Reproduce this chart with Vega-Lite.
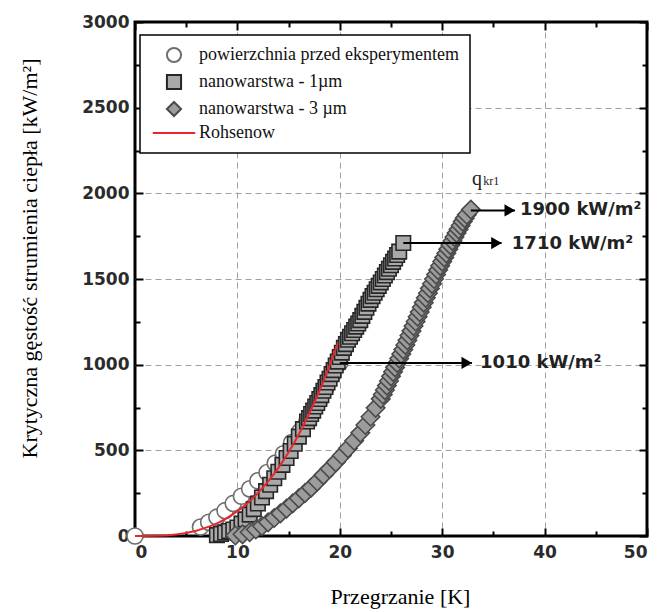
{
  "$schema": "https://vega.github.io/schema/vega-lite/v6.json",
  "autosize": {"type": "none"},
  "padding": {"left": 135, "top": 22, "right": 12, "bottom": 76},
  "width": 512,
  "height": 514,
  "background": "white",
  "config": {
    "view": {"stroke": "black", "strokeWidth": 3},
    "axis": {
      "labelFont": "DejaVu Sans",
      "labelFontWeight": "bold",
      "labelFontSize": 17,
      "labelColor": "#2b2b2b",
      "titleFont": "Liberation Serif",
      "titleFontWeight": "normal",
      "titleColor": "black",
      "domain": false,
      "tickColor": "black",
      "tickWidth": 2,
      "gridColor": "#a0a0a0",
      "gridDash": [6, 4],
      "gridWidth": 1
    },
    "legend": {
      "title": null, "orient": "none", "legendX": 5, "legendY": 13, "padding": 11,
      "strokeColor": "black", "fillColor": "white", "strokeWidth": 1.5,
      "labelFont": "Liberation Serif", "labelFontSize": 18, "labelColor": "#111", "labelLimit": 400,
      "symbolSize": 200, "symbolStrokeWidth": 2, "symbolOffset": 14, "labelOffset": 16, "rowPadding": 3
    }
  },
  "datasets": {
    "circ": [
      {"s": "powierzchnia przed eksperymentem", "x": 0, "y": 0},
      {"s": "powierzchnia przed eksperymentem", "x": 6.4, "y": 52},
      {"s": "powierzchnia przed eksperymentem", "x": 7.2, "y": 80},
      {"s": "powierzchnia przed eksperymentem", "x": 8.0, "y": 110},
      {"s": "powierzchnia przed eksperymentem", "x": 8.8, "y": 148},
      {"s": "powierzchnia przed eksperymentem", "x": 9.6, "y": 190},
      {"s": "powierzchnia przed eksperymentem", "x": 10.4, "y": 232},
      {"s": "powierzchnia przed eksperymentem", "x": 11.2, "y": 275},
      {"s": "powierzchnia przed eksperymentem", "x": 12.0, "y": 322},
      {"s": "powierzchnia przed eksperymentem", "x": 12.9, "y": 370},
      {"s": "powierzchnia przed eksperymentem", "x": 13.7, "y": 425},
      {"s": "powierzchnia przed eksperymentem", "x": 14.5, "y": 480},
      {"s": "powierzchnia przed eksperymentem", "x": 15.3, "y": 545},
      {"s": "powierzchnia przed eksperymentem", "x": 16.1, "y": 610},
      {"s": "powierzchnia przed eksperymentem", "x": 16.8, "y": 672},
      {"s": "powierzchnia przed eksperymentem", "x": 17.4, "y": 730},
      {"s": "powierzchnia przed eksperymentem", "x": 18.0, "y": 790},
      {"s": "powierzchnia przed eksperymentem", "x": 18.6, "y": 860},
      {"s": "powierzchnia przed eksperymentem", "x": 19.3, "y": 940},
      {"s": "powierzchnia przed eksperymentem", "x": 20.0, "y": 1010}
    ],
    "sq": [
      {"s": "nanowarstwa - 1µm", "x": 8.0, "y": 5},
      {"s": "nanowarstwa - 1µm", "x": 8.4, "y": 12},
      {"s": "nanowarstwa - 1µm", "x": 8.8, "y": 20},
      {"s": "nanowarstwa - 1µm", "x": 9.2, "y": 29},
      {"s": "nanowarstwa - 1µm", "x": 9.6, "y": 38},
      {"s": "nanowarstwa - 1µm", "x": 10.0, "y": 50},
      {"s": "nanowarstwa - 1µm", "x": 10.4, "y": 72},
      {"s": "nanowarstwa - 1µm", "x": 10.8, "y": 97},
      {"s": "nanowarstwa - 1µm", "x": 11.2, "y": 125},
      {"s": "nanowarstwa - 1µm", "x": 11.6, "y": 157},
      {"s": "nanowarstwa - 1µm", "x": 12.0, "y": 190},
      {"s": "nanowarstwa - 1µm", "x": 12.4, "y": 225},
      {"s": "nanowarstwa - 1µm", "x": 12.8, "y": 262},
      {"s": "nanowarstwa - 1µm", "x": 13.2, "y": 299},
      {"s": "nanowarstwa - 1µm", "x": 13.6, "y": 337},
      {"s": "nanowarstwa - 1µm", "x": 14.0, "y": 375},
      {"s": "nanowarstwa - 1µm", "x": 14.4, "y": 415},
      {"s": "nanowarstwa - 1µm", "x": 14.8, "y": 455},
      {"s": "nanowarstwa - 1µm", "x": 15.2, "y": 496},
      {"s": "nanowarstwa - 1µm", "x": 15.6, "y": 538},
      {"s": "nanowarstwa - 1µm", "x": 16.0, "y": 580},
      {"s": "nanowarstwa - 1µm", "x": 16.4, "y": 624},
      {"s": "nanowarstwa - 1µm", "x": 16.8, "y": 668},
      {"s": "nanowarstwa - 1µm", "x": 17.0, "y": 688},
      {"s": "nanowarstwa - 1µm", "x": 17.2, "y": 712},
      {"s": "nanowarstwa - 1µm", "x": 17.4, "y": 732},
      {"s": "nanowarstwa - 1µm", "x": 17.6, "y": 756},
      {"s": "nanowarstwa - 1µm", "x": 17.8, "y": 776},
      {"s": "nanowarstwa - 1µm", "x": 18.0, "y": 800},
      {"s": "nanowarstwa - 1µm", "x": 18.2, "y": 822},
      {"s": "nanowarstwa - 1µm", "x": 18.4, "y": 848},
      {"s": "nanowarstwa - 1µm", "x": 18.6, "y": 870},
      {"s": "nanowarstwa - 1µm", "x": 18.8, "y": 896},
      {"s": "nanowarstwa - 1µm", "x": 19.0, "y": 918},
      {"s": "nanowarstwa - 1µm", "x": 19.2, "y": 945},
      {"s": "nanowarstwa - 1µm", "x": 19.4, "y": 968},
      {"s": "nanowarstwa - 1µm", "x": 19.6, "y": 995},
      {"s": "nanowarstwa - 1µm", "x": 19.8, "y": 1018},
      {"s": "nanowarstwa - 1µm", "x": 20.0, "y": 1045},
      {"s": "nanowarstwa - 1µm", "x": 20.2, "y": 1070},
      {"s": "nanowarstwa - 1µm", "x": 20.4, "y": 1098},
      {"s": "nanowarstwa - 1µm", "x": 20.6, "y": 1120},
      {"s": "nanowarstwa - 1µm", "x": 20.8, "y": 1145},
      {"s": "nanowarstwa - 1µm", "x": 21.0, "y": 1163},
      {"s": "nanowarstwa - 1µm", "x": 21.2, "y": 1183},
      {"s": "nanowarstwa - 1µm", "x": 21.4, "y": 1202},
      {"s": "nanowarstwa - 1µm", "x": 21.6, "y": 1222},
      {"s": "nanowarstwa - 1µm", "x": 21.8, "y": 1240},
      {"s": "nanowarstwa - 1µm", "x": 22.0, "y": 1260},
      {"s": "nanowarstwa - 1µm", "x": 22.2, "y": 1285},
      {"s": "nanowarstwa - 1µm", "x": 22.4, "y": 1308},
      {"s": "nanowarstwa - 1µm", "x": 22.6, "y": 1332},
      {"s": "nanowarstwa - 1µm", "x": 22.8, "y": 1356},
      {"s": "nanowarstwa - 1µm", "x": 23.0, "y": 1378},
      {"s": "nanowarstwa - 1µm", "x": 23.2, "y": 1400},
      {"s": "nanowarstwa - 1µm", "x": 23.4, "y": 1420},
      {"s": "nanowarstwa - 1µm", "x": 23.6, "y": 1440},
      {"s": "nanowarstwa - 1µm", "x": 23.8, "y": 1460},
      {"s": "nanowarstwa - 1µm", "x": 24.0, "y": 1480},
      {"s": "nanowarstwa - 1µm", "x": 24.2, "y": 1500},
      {"s": "nanowarstwa - 1µm", "x": 24.4, "y": 1520},
      {"s": "nanowarstwa - 1µm", "x": 24.6, "y": 1540},
      {"s": "nanowarstwa - 1µm", "x": 24.8, "y": 1560},
      {"s": "nanowarstwa - 1µm", "x": 25.0, "y": 1580},
      {"s": "nanowarstwa - 1µm", "x": 25.2, "y": 1600},
      {"s": "nanowarstwa - 1µm", "x": 25.4, "y": 1620},
      {"s": "nanowarstwa - 1µm", "x": 25.6, "y": 1640},
      {"s": "nanowarstwa - 1µm", "x": 25.8, "y": 1660},
      {"s": "nanowarstwa - 1µm", "x": 26.2, "y": 1710}
    ],
    "dia": [
      {"s": "nanowarstwa - 3 µm", "x": 9.8, "y": 3},
      {"s": "nanowarstwa - 3 µm", "x": 10.5, "y": 10},
      {"s": "nanowarstwa - 3 µm", "x": 11.2, "y": 22},
      {"s": "nanowarstwa - 3 µm", "x": 11.8, "y": 38},
      {"s": "nanowarstwa - 3 µm", "x": 12.4, "y": 58},
      {"s": "nanowarstwa - 3 µm", "x": 13.0, "y": 80},
      {"s": "nanowarstwa - 3 µm", "x": 13.6, "y": 105},
      {"s": "nanowarstwa - 3 µm", "x": 14.2, "y": 132},
      {"s": "nanowarstwa - 3 µm", "x": 14.8, "y": 160},
      {"s": "nanowarstwa - 3 µm", "x": 15.4, "y": 190},
      {"s": "nanowarstwa - 3 µm", "x": 16.0, "y": 220},
      {"s": "nanowarstwa - 3 µm", "x": 16.6, "y": 250},
      {"s": "nanowarstwa - 3 µm", "x": 17.2, "y": 282},
      {"s": "nanowarstwa - 3 µm", "x": 17.8, "y": 318},
      {"s": "nanowarstwa - 3 µm", "x": 18.4, "y": 355},
      {"s": "nanowarstwa - 3 µm", "x": 19.0, "y": 392},
      {"s": "nanowarstwa - 3 µm", "x": 19.6, "y": 430},
      {"s": "nanowarstwa - 3 µm", "x": 20.2, "y": 470},
      {"s": "nanowarstwa - 3 µm", "x": 20.8, "y": 512},
      {"s": "nanowarstwa - 3 µm", "x": 21.4, "y": 556},
      {"s": "nanowarstwa - 3 µm", "x": 22.0, "y": 602},
      {"s": "nanowarstwa - 3 µm", "x": 22.5, "y": 648},
      {"s": "nanowarstwa - 3 µm", "x": 23.0, "y": 696},
      {"s": "nanowarstwa - 3 µm", "x": 23.5, "y": 748},
      {"s": "nanowarstwa - 3 µm", "x": 24.0, "y": 800},
      {"s": "nanowarstwa - 3 µm", "x": 24.2, "y": 826},
      {"s": "nanowarstwa - 3 µm", "x": 24.4, "y": 852},
      {"s": "nanowarstwa - 3 µm", "x": 24.6, "y": 878},
      {"s": "nanowarstwa - 3 µm", "x": 24.8, "y": 905},
      {"s": "nanowarstwa - 3 µm", "x": 25.0, "y": 932},
      {"s": "nanowarstwa - 3 µm", "x": 25.2, "y": 958},
      {"s": "nanowarstwa - 3 µm", "x": 25.4, "y": 984},
      {"s": "nanowarstwa - 3 µm", "x": 25.6, "y": 1010},
      {"s": "nanowarstwa - 3 µm", "x": 25.8, "y": 1036},
      {"s": "nanowarstwa - 3 µm", "x": 26.0, "y": 1062},
      {"s": "nanowarstwa - 3 µm", "x": 26.2, "y": 1088},
      {"s": "nanowarstwa - 3 µm", "x": 26.4, "y": 1115},
      {"s": "nanowarstwa - 3 µm", "x": 26.6, "y": 1142},
      {"s": "nanowarstwa - 3 µm", "x": 26.8, "y": 1170},
      {"s": "nanowarstwa - 3 µm", "x": 27.0, "y": 1197},
      {"s": "nanowarstwa - 3 µm", "x": 27.2, "y": 1225},
      {"s": "nanowarstwa - 3 µm", "x": 27.4, "y": 1252},
      {"s": "nanowarstwa - 3 µm", "x": 27.6, "y": 1280},
      {"s": "nanowarstwa - 3 µm", "x": 27.8, "y": 1307},
      {"s": "nanowarstwa - 3 µm", "x": 28.0, "y": 1335},
      {"s": "nanowarstwa - 3 µm", "x": 28.2, "y": 1362},
      {"s": "nanowarstwa - 3 µm", "x": 28.4, "y": 1390},
      {"s": "nanowarstwa - 3 µm", "x": 28.6, "y": 1417},
      {"s": "nanowarstwa - 3 µm", "x": 28.8, "y": 1445},
      {"s": "nanowarstwa - 3 µm", "x": 29.0, "y": 1472},
      {"s": "nanowarstwa - 3 µm", "x": 29.2, "y": 1500},
      {"s": "nanowarstwa - 3 µm", "x": 29.4, "y": 1526},
      {"s": "nanowarstwa - 3 µm", "x": 29.6, "y": 1552},
      {"s": "nanowarstwa - 3 µm", "x": 29.8, "y": 1577},
      {"s": "nanowarstwa - 3 µm", "x": 30.0, "y": 1602},
      {"s": "nanowarstwa - 3 µm", "x": 30.2, "y": 1626},
      {"s": "nanowarstwa - 3 µm", "x": 30.4, "y": 1650},
      {"s": "nanowarstwa - 3 µm", "x": 30.6, "y": 1674},
      {"s": "nanowarstwa - 3 µm", "x": 30.8, "y": 1698},
      {"s": "nanowarstwa - 3 µm", "x": 31.0, "y": 1722},
      {"s": "nanowarstwa - 3 µm", "x": 31.2, "y": 1745},
      {"s": "nanowarstwa - 3 µm", "x": 31.4, "y": 1768},
      {"s": "nanowarstwa - 3 µm", "x": 31.6, "y": 1790},
      {"s": "nanowarstwa - 3 µm", "x": 31.8, "y": 1812},
      {"s": "nanowarstwa - 3 µm", "x": 32.0, "y": 1835},
      {"s": "nanowarstwa - 3 µm", "x": 32.2, "y": 1855},
      {"s": "nanowarstwa - 3 µm", "x": 32.4, "y": 1875},
      {"s": "nanowarstwa - 3 µm", "x": 32.8, "y": 1905}
    ],
    "roh": [
      {"x": 0, "y": 0}, {"x": 2, "y": 1}, {"x": 4, "y": 9}, {"x": 5, "y": 18},
      {"x": 6, "y": 31}, {"x": 7, "y": 50}, {"x": 8, "y": 74}, {"x": 9, "y": 106},
      {"x": 10, "y": 145}, {"x": 11, "y": 193}, {"x": 12, "y": 251}, {"x": 13, "y": 319},
      {"x": 14, "y": 398}, {"x": 15, "y": 489}, {"x": 16, "y": 594}, {"x": 17, "y": 712},
      {"x": 18, "y": 846}, {"x": 19, "y": 995}, {"x": 19.8, "y": 1125}
    ],
    "arrows": [
      {"x": 20.0, "x2": 32.9, "y": 1010, "head": 32.4},
      {"x": 26.2, "x2": 35.8, "y": 1710, "head": 35.3},
      {"x": 32.8, "x2": 37.1, "y": 1900, "head": 36.6}
    ],
    "labels": [
      {"x": 33.7, "y": 1010, "t": "1010 kW/m²"},
      {"x": 36.8, "y": 1705, "t": "1710 kW/m²"},
      {"x": 37.6, "y": 1900, "t": "1900 kW/m²"}
    ],
    "qlab": [
      {"x": 32.9, "y": 2050, "t": "q", "sz": 20},
      {"x": 34.0, "y": 2050, "t": "kr1", "sz": 12}
    ]
  },
  "layer": [
    {
      "data": {"name": "circ"},
      "mark": {"type": "point", "filled": true, "opacity": 1, "strokeWidth": 1.6, "size": 260},
      "encoding": {
        "x": {
          "field": "x", "type": "quantitative",
          "scale": {"domain": [0, 50], "nice": false, "zero": false},
          "axis": {
            "orient": "bottom",
            "values": [0, 5, 10, 15, 20, 25, 30, 35, 40, 45, 50],
            "format": "d",
            "labelExpr": "datum.value % 10 === 0 ? datum.label : ''",
            "tickSize": {"condition": {"test": "datum.value % 10 === 0", "value": -8}, "value": -5},
            "labelPadding": 16,
            "grid": true,
            "gridOpacity": {"condition": {"test": "datum.value % 10 === 0 && datum.value > 0 && datum.value < 50", "value": 1}, "value": 0},
            "title": "Przegrzanie [K]",
            "titleFontSize": 22,
            "titleX": 265,
            "titleY": 67,
            "titleAlign": "center",
            "titleBaseline": "alphabetic"
          }
        },
        "y": {
          "field": "y", "type": "quantitative",
          "scale": {"domain": [0, 3000], "nice": false},
          "axis": {
            "orient": "left",
            "values": [0, 250, 500, 750, 1000, 1250, 1500, 1750, 2000, 2250, 2500, 2750, 3000],
            "format": "d",
            "labelExpr": "datum.value % 500 === 0 ? datum.label : ''",
            "tickSize": {"condition": {"test": "datum.value % 500 === 0", "value": -8}, "value": -5},
            "labelPadding": 14,
            "grid": true,
            "gridOpacity": {"condition": {"test": "datum.value % 500 === 0 && datum.value > 0 && datum.value < 3000", "value": 1}, "value": 0},
            "title": "Krytyczna gęstość strumienia ciepła [kW/m²]",
            "titleFontSize": 22,
            "titleX": -99,
            "titleY": 236,
            "titleAlign": "center",
            "titleBaseline": "alphabetic"
          }
        },
        "shape": {"field": "s", "type": "nominal", "scale": {"domain": ["powierzchnia przed eksperymentem", "nanowarstwa - 1µm", "nanowarstwa - 3 µm", "Rohsenow"], "range": ["circle", "square", "diamond", "M-3,0H3"]}},
        "fill": {"field": "s", "type": "nominal", "scale": {"domain": ["powierzchnia przed eksperymentem", "nanowarstwa - 1µm", "nanowarstwa - 3 µm", "Rohsenow"], "range": ["white", "#a9a9a9", "#9c9c9c", "transparent"]}},
        "stroke": {"field": "s", "type": "nominal", "scale": {"domain": ["powierzchnia przed eksperymentem", "nanowarstwa - 1µm", "nanowarstwa - 3 µm", "Rohsenow"], "range": ["#6e6e6e", "#262626", "#4a4a4a", "#e8262b"]}}
      }
    },
    {
      "data": {"name": "sq"},
      "mark": {"type": "point", "filled": true, "opacity": 1, "strokeWidth": 1.6, "size": 210},
      "encoding": {
        "x": {"field": "x", "type": "quantitative", "axis": null},
        "y": {"field": "y", "type": "quantitative", "axis": null},
        "shape": {"field": "s", "type": "nominal"},
        "fill": {"field": "s", "type": "nominal"},
        "stroke": {"field": "s", "type": "nominal"}
      }
    },
    {
      "data": {"name": "dia"},
      "mark": {"type": "point", "filled": true, "opacity": 1, "strokeWidth": 1.6, "size": 340},
      "encoding": {
        "x": {"field": "x", "type": "quantitative", "axis": null},
        "y": {"field": "y", "type": "quantitative", "axis": null},
        "shape": {"field": "s", "type": "nominal"},
        "fill": {"field": "s", "type": "nominal"},
        "stroke": {"field": "s", "type": "nominal"}
      }
    },
    {
      "data": {"name": "roh"},
      "mark": {"type": "line", "color": "#e8262b", "strokeWidth": 2, "interpolate": "monotone"},
      "encoding": {
        "x": {"field": "x", "type": "quantitative", "axis": null},
        "y": {"field": "y", "type": "quantitative", "axis": null}
      }
    },
    {
      "data": {"name": "arrows"},
      "mark": {"type": "rule", "color": "black", "strokeWidth": 2},
      "encoding": {
        "x": {
          "field": "x", "type": "quantitative",
          "axis": {
            "orient": "top",
            "values": [0, 5, 10, 15, 20, 25, 30, 35, 40, 45, 50],
            "labels": false, "grid": false, "title": null,
            "tickSize": {"condition": {"test": "datum.value % 10 === 0", "value": -8}, "value": -5}
          }
        },
        "x2": {"field": "x2"},
        "y": {
          "field": "y", "type": "quantitative",
          "axis": {
            "orient": "right",
            "values": [0, 250, 500, 750, 1000, 1250, 1500, 1750, 2000, 2250, 2500, 2750, 3000],
            "labels": false, "grid": false, "title": null,
            "tickSize": {"condition": {"test": "datum.value % 500 === 0", "value": -8}, "value": -5}
          }
        }
      }
    },
    {
      "data": {"name": "arrows"},
      "mark": {"type": "point", "shape": "triangle-right", "filled": true, "color": "black", "opacity": 1, "size": 150},
      "encoding": {
        "x": {"field": "head", "type": "quantitative", "axis": null},
        "y": {"field": "y", "type": "quantitative", "axis": null}
      }
    },
    {
      "data": {"name": "labels"},
      "mark": {"type": "text", "align": "left", "baseline": "middle", "font": "DejaVu Sans", "fontWeight": "bold", "fontSize": 18, "color": "#222"},
      "encoding": {
        "x": {"field": "x", "type": "quantitative", "axis": null},
        "y": {"field": "y", "type": "quantitative", "axis": null},
        "text": {"field": "t"}
      }
    },
    {
      "data": {"name": "qlab"},
      "mark": {"type": "text", "align": "left", "baseline": "alphabetic", "font": "Liberation Serif", "color": "#222"},
      "encoding": {
        "x": {"field": "x", "type": "quantitative", "axis": null},
        "y": {"field": "y", "type": "quantitative", "axis": null},
        "text": {"field": "t"},
        "size": {"field": "sz", "type": "quantitative", "scale": null, "legend": null}
      }
    }
  ],
  "resolve": {"axis": {"x": "independent", "y": "independent"}}
}
